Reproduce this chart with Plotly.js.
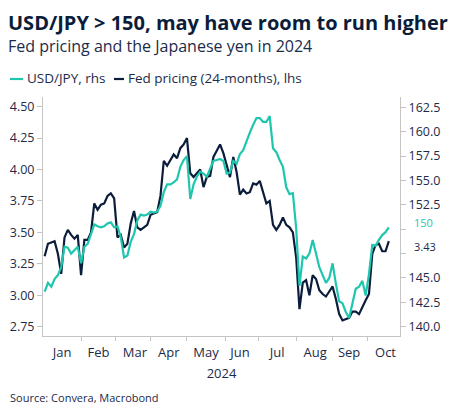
<!DOCTYPE html>
<html>
<head>
<meta charset="utf-8">
<script src="https://cdn.plot.ly/plotly-3.0.1.min.js"></script>
<style>
  html, body { margin: 0; padding: 0; background: #ffffff; }
  #chart { width: 453px; height: 416px; }
</style>
</head>
<body>
<div id="chart"></div>
<script>
const startDate = '2024-01-02';
const stepBusinessDays = 2;

// Fed pricing (24-months), left axis
const fedPricing = [
  3.31,3.41,3.42,3.43,3.33,3.17,3.46,3.52,3.48,3.45,
  3.48,3.16,3.44,3.44,3.50,3.73,3.68,3.72,3.73,3.79,
  3.81,3.77,3.46,3.48,3.38,3.41,3.57,3.67,3.54,3.52,
  3.54,3.56,3.64,3.65,3.66,3.79,4.07,4.03,4.08,4.12,
  4.09,4.17,4.20,4.25,3.97,3.94,3.97,4.00,3.86,3.94,
  3.95,4.10,4.15,4.20,4.13,4.04,3.94,4.10,3.98,3.80,
  3.84,3.81,3.82,3.89,3.88,3.91,3.81,3.73,3.75,3.56,
  3.52,3.56,3.62,3.56,3.54,3.50,3.30,2.89,3.10,3.12,
  3.00,3.16,3.13,3.04,3.01,2.99,3.03,3.07,2.97,2.85,
  2.80,2.81,2.82,2.87,2.87,2.85,2.91,2.96,3.01,3.33,
  3.40,3.41,3.35,3.35,3.43
];

// USD/JPY, right axis
const usdJpy = [
  143.6,144.5,144.1,144.9,145.3,146.1,148.2,148.1,147.5,147.9,
  148.2,146.5,148.2,148.5,149.5,150.5,150.3,150.2,150.3,150.6,
  150.7,150.2,150.3,149.2,147.1,147.3,148.7,149.5,150.9,151.5,
  151.4,151.5,151.8,151.7,151.8,152.4,153.8,154.6,154.6,154.8,
  155.1,156.4,157.1,157.5,153.1,154.6,155.4,155.9,155.7,155.4,
  156.2,157.0,157.1,157.2,157.0,155.7,155.8,157.0,156.7,157.7,
  158.1,159.1,159.9,160.7,161.4,161.4,161.0,161.0,161.6,158.3,
  157.9,157.1,156.4,154.3,153.6,153.7,150.1,144.2,147.2,147.0,
  147.5,148.9,147.5,146.1,145.3,144.5,145.0,146.5,144.4,142.6,
  142.4,141.5,140.9,142.4,143.9,144.1,144.7,143.2,145.4,148.4,
  148.3,148.9,149.4,149.7,150.2
];

const seriesNames = ['USD/JPY, rhs', 'Fed pricing (24-months), lhs'];
const lastValueLabels = ['150', '3.43'];

const leftTickVals = [2.75, 3.00, 3.25, 3.50, 3.75, 4.00, 4.25, 4.50];
const leftTickText = ['2.75', '3.00', '3.25', '3.50', '3.75', '4.00', '4.25', '4.50'];
const rightTickVals = [140, 142.5, 145, 147.5, 150, 152.5, 155, 157.5, 160, 162.5];
const rightTickText = ['140.0', '142.5', '145.0', '', '', '152.5', '155.0', '157.5', '160.0', '162.5'];

const titleText = 'USD/JPY > 150, may have room to run higher';
const subtitleText = 'Fed pricing and the Japanese yen in 2024';
const sourceText = 'Source: Convera, Macrobond';
const yearLabel = '2024';

// ---- Helpers ----
function businessDays(start, count, step) {
  const out = [];
  const d = new Date(start + 'T00:00:00Z');
  let n = 0;
  while (out.length < count) {
    const wd = d.getUTCDay();
    if (wd !== 0 && wd !== 6) {
      if (n % step === 0) out.push(d.toISOString().slice(0, 10));
      n++;
    }
    d.setUTCDate(d.getUTCDate() + 1);
  }
  return out;
}

const W = 453, H = 416;
const M = { l: 43, r: 53, t: 97, b: 80 };
const PW = W - M.l - M.r, PH = H - M.t - M.b;
const px = v => (v - M.l) / PW;        // page x pixel -> paper
const py = v => (H - M.b - v) / PH;    // page y pixel -> paper

const TEAL = '#1fc6ae';
const NAVY = '#0b1d3a';
const TXT = '#1c2b4a';
const AXIS = '#c4c4c4';
const FONT = 'Open Sans, Noto Sans, sans-serif';

const dates = businessDays(startDate, usdJpy.length, stepBusinessDays);

const traces = [
  { x: dates, y: fedPricing, type: 'scatter', mode: 'lines', name: seriesNames[1],
    yaxis: 'y', line: { color: NAVY, width: 2.2 }, hoverinfo: 'skip' },
  { x: dates, y: usdJpy, type: 'scatter', mode: 'lines', name: seriesNames[0],
    yaxis: 'y2', line: { color: TEAL, width: 2.2 }, hoverinfo: 'skip' }
];

const layout = {
  width: W, height: H,
  margin: M,
  paper_bgcolor: '#ffffff', plot_bgcolor: '#ffffff',
  showlegend: false,
  font: { family: FONT, color: TXT, size: 13 },
  xaxis: {
    type: 'date',
    range: ['2024-01-01', '2024-10-28 18:00'],
    rangebreaks: [{ bounds: ['sat', 'mon'] }],
    tick0: '2024-01-01', dtick: 'M1', tickformat: '%b', ticklabelmode: 'period',
    ticks: 'outside', ticklen: 4, tickcolor: AXIS, tickwidth: 1,
    showline: true, linecolor: AXIS, linewidth: 1,
    showgrid: false, zeroline: false,
    tickfont: { family: FONT, size: 13, color: TXT },
    title: { text: yearLabel, font: { family: FONT, size: 13, color: TXT }, standoff: 9 }
  },
  yaxis: {
    range: [2.676, 4.577],
    tickvals: leftTickVals, ticktext: leftTickText,
    ticks: 'outside', ticklen: 5, tickcolor: AXIS, tickwidth: 1,
    showline: true, linecolor: AXIS, linewidth: 1,
    showgrid: false, zeroline: false,
    tickfont: { family: FONT, size: 12.5, color: TXT }
  },
  yaxis2: {
    overlaying: 'y', side: 'right',
    range: [139.05, 163.56],
    tickvals: rightTickVals, ticktext: rightTickText,
    ticks: 'outside', ticklen: 5, tickcolor: AXIS, tickwidth: 1,
    showline: true, linecolor: AXIS, linewidth: 1,
    showgrid: false, zeroline: false,
    tickfont: { family: FONT, size: 12.5, color: TXT }
  },
  shapes: [
    { type: 'line', xref: 'paper', yref: 'paper', x0: px(10), x1: px(23), y0: py(79), y1: py(79),
      line: { color: TEAL, width: 2.2 } },
    { type: 'line', xref: 'paper', yref: 'paper', x0: px(114), x1: px(124), y0: py(79), y1: py(79),
      line: { color: NAVY, width: 2.2 } }
  ],
  annotations: [
    { xref: 'paper', yref: 'paper', x: px(6), y: py(22), xanchor: 'left', yanchor: 'middle',
      text: '<b>' + titleText + '</b>', showarrow: false,
      font: { family: FONT, size: 20, color: NAVY } },
    { xref: 'paper', yref: 'paper', x: px(6), y: py(46), xanchor: 'left', yanchor: 'middle',
      text: subtitleText, showarrow: false,
      font: { family: FONT, size: 16, color: TXT } },
    { xref: 'paper', yref: 'paper', x: px(25), y: py(78), xanchor: 'left', yanchor: 'middle',
      text: seriesNames[0], showarrow: false,
      font: { family: FONT, size: 13.5, color: TXT } },
    { xref: 'paper', yref: 'paper', x: px(126), y: py(78), xanchor: 'left', yanchor: 'middle',
      text: seriesNames[1], showarrow: false,
      font: { family: FONT, size: 13.5, color: TXT } },
    { xref: 'paper', yref: 'paper', x: px(8), y: py(397), xanchor: 'left', yanchor: 'middle',
      text: sourceText, showarrow: false,
      font: { family: FONT, size: 11, color: TXT } },
    { xref: 'paper', yref: 'y2', x: 1, y: usdJpy[usdJpy.length - 1], xanchor: 'left', yanchor: 'middle',
      xshift: 12, yshift: 5, text: lastValueLabels[0], showarrow: false,
      font: { family: FONT, size: 11, color: TEAL } },
    { xref: 'paper', yref: 'y', x: 1, y: fedPricing[fedPricing.length - 1], xanchor: 'left', yanchor: 'middle',
      xshift: 12, yshift: -5, text: lastValueLabels[1], showarrow: false,
      font: { family: FONT, size: 11, color: TXT } }
  ]
};

Plotly.newPlot('chart', traces, layout, { displayModeBar: false, staticPlot: true });
</script>
</body>
</html>
